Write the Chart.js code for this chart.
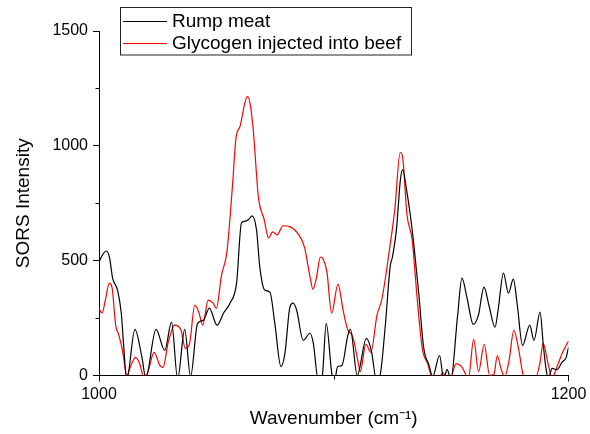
<!DOCTYPE html>
<html><head><meta charset="utf-8">
<script src="https://cdn.jsdelivr.net/npm/chart.js@4/dist/chart.umd.min.js"></script>
<style>html,body{margin:0;padding:0;background:#fff;}#wrap{width:590px;height:434px;}</style>
</head><body><div id="wrap"><canvas id="c" width="590" height="434"></canvas></div>
<script>
// Data (wavenumber in cm-1, SORS intensity)
const rumpWavenumber = [1000,1001.5,1003.1,1004.5,1005.8,1007.9,1009.5,1010.5,1011.8,1015.3,1018.3,1019.9,1024.3,1028,1030.9,1033.5,1036.5,1039,1042,1044.4,1047,1050.3,1053,1055.8,1058.6,1060.7,1062.5,1063.8,1065.2,1067.1,1068.5,1070.6,1072.8,1074.9,1077.5,1079.2,1081.3,1082.7,1084.2,1087,1089.9,1091.3,1093.4,1095,1096.8,1099,1100,1101.7,1103.5,1106,1107.1,1110,1113.9,1116,1118.2,1119.5,1121.9,1124,1125,1126.7,1128.4,1129.4,1131,1132.6,1134,1136.2,1138.3,1140.6,1142.1,1145.1,1146.8,1148.3,1149.9,1152.7,1154.6,1156.8,1159.4,1161.6,1164,1166.1,1168.7,1170,1172.3,1174.4,1176.5,1178.2,1180.4,1183.5,1185.3,1187.9,1189.2,1190.4,1191.4,1193,1195.1,1197.2,1199,1200];
const rumpIntensity = [494,525,542,512,424,372,271,131,-20,201,79,-10,201,109,232,-15,201,-5,227,240,293,219,271,315,402,665,672,680,695,634,472,372,363,227,39,96,297,315,284,153,184,140,-20,-10,227,22,-40,39,44,175,201,0,162,109,-20,-10,210,472,516,634,853,896,809,700,582,359,122,44,-5,87,-15,26,-15,254,424,337,223,262,385,306,210,284,446,359,420,306,131,219,153,276,140,31,-15,31,26,57,79,122];
const glyWavenumber = [1000,1001.3,1002.7,1004.4,1005.6,1007.1,1008.5,1010,1011.9,1013.1,1015.6,1017.3,1019,1020.6,1023.5,1025.9,1027.3,1029.4,1032.2,1034.8,1036.8,1038.6,1040.8,1042.5,1044.2,1046.5,1048.6,1050,1052.2,1054.5,1056.8,1058.3,1060.2,1062.1,1063.2,1064.5,1065.8,1067.9,1070.4,1072.2,1074,1075.9,1078.4,1081.5,1084.5,1087.5,1089.9,1091.1,1092.6,1094.3,1095.5,1097.1,1099.1,1101.8,1104,1105.9,1108.2,1110.4,1111.3,1113.7,1115.8,1118.4,1120.5,1123.9,1126,1128.3,1129.3,1131.2,1133.4,1135.6,1137.7,1140,1142.2,1145,1146.5,1148,1149.8,1152,1154.4,1157.4,1159.6,1161.7,1164.1,1166.4,1168.2,1169.7,1171.2,1172.8,1174.7,1176.7,1178.7,1180.8,1183,1185.8,1187.8,1189.2,1191.3,1193,1195.3,1197.5,1200];
const glyIntensity = [293,271,328,402,380,219,175,109,0,31,79,52,-5,9,101,44,35,140,219,201,118,140,306,276,219,328,315,293,437,538,818,1028,1089,1185,1216,1176,1058,778,678,599,625,612,652,647,621,560,429,376,424,516,507,450,271,398,284,201,166,57,17,136,101,262,332,560,722,971,953,700,590,328,118,52,-15,-10,13,-10,-10,52,40,-10,157,17,136,0,4,87,31,-5,66,197,118,0,-15,-15,52,140,52,-10,44,101,150];
const seriesLabels = ['Rump meat', 'Glycogen injected into beef'];
const xMajorTicks = [1000, 1200];
const xMinorTicks = [1100];
const yMajorTicks = [0, 500, 1000, 1500];
const yMinorTicks = [250, 750, 1250];

const FONT = '"Liberation Sans", Arial, sans-serif';

const toXY = (xs, ys) => xs.map((x, i) => ({x: x, y: ys[i]}));

const extrasPlugin = {
  id: 'extras',
  afterDraw(chart) {
    const ctx = chart.ctx;
    const xs = chart.scales.x, ys = chart.scales.y;
    const area = chart.chartArea;
    ctx.save();
    ctx.strokeStyle = '#000';
    ctx.lineWidth = 1;
    ctx.beginPath();
    yMinorTicks.forEach(v => {
      const py = Math.round(ys.getPixelForValue(v)) + 0.5;
      ctx.moveTo(area.left - 3.5, py); ctx.lineTo(area.left, py);
    });
    xMinorTicks.forEach(v => {
      const px = Math.round(xs.getPixelForValue(v)) + 0.5;
      ctx.moveTo(px, area.bottom); ctx.lineTo(px, area.bottom + 4);
    });
    ctx.stroke();
    // legend box
    const bx = 120.5, by = 7.5, bw = 291, bh = 47.5;
    ctx.strokeStyle = '#222';
    ctx.lineWidth = 1;
    ctx.strokeRect(bx, by, bw, bh);
    ctx.font = '19px ' + FONT;
    ctx.textBaseline = 'middle';
    ctx.fillStyle = '#000';
    chart.data.datasets.forEach((ds, i) => {
      const cy = 21 + i * 22;
      ctx.strokeStyle = ds.borderColor;
      ctx.beginPath();
      ctx.moveTo(123, cy + 0.5); ctx.lineTo(167, cy + 0.5);
      ctx.stroke();
      ctx.fillText(ds.label, 172, cy + 1);
    });
    ctx.restore();
  }
};

new Chart(document.getElementById('c'), {
  type: 'line',
  data: {
    datasets: [
      {label: seriesLabels[0], data: toXY(rumpWavenumber, rumpIntensity), borderColor: '#000000', borderWidth: 1.2, pointRadius: 0, cubicInterpolationMode: 'monotone', fill: false},
      {label: seriesLabels[1], data: toXY(glyWavenumber, glyIntensity), borderColor: '#ff0000', borderWidth: 1.2, pointRadius: 0, cubicInterpolationMode: 'monotone', fill: false}
    ]
  },
  options: {
    responsive: false,
    animation: false,
    events: [],
    layout: {padding: {left: 0, right: 21.5, top: 31, bottom: 0}},
    plugins: {legend: {display: false}, tooltip: {enabled: false}},
    scales: {
      x: {
        type: 'linear', min: 1000, max: 1200,
        afterBuildTicks: s => { s.ticks = xMajorTicks.map(v => ({value: v})); },
        afterFit: s => { s.height = 58.5; },
        ticks: {color: '#000', font: {family: FONT, size: 16}, padding: 3, maxRotation: 0, autoSkip: false, callback: v => String(v)},
        grid: {display: true, drawOnChartArea: false, drawTicks: true, tickLength: 6, color: '#000', tickColor: '#000'},
        border: {display: true, color: '#000', width: 1},
        title: {display: true, text: 'Wavenumber (cm⁻¹)', color: '#000', font: {family: FONT, size: 19}, padding: {top: 0, bottom: 4}}
      },
      y: {
        type: 'linear', min: 0, max: 1500,
        afterBuildTicks: s => { s.ticks = yMajorTicks.map(v => ({value: v})); },
        afterFit: s => { s.width = 99; },
        ticks: {color: '#000', font: {family: FONT, size: 16}, padding: 5, callback: v => String(v)},
        grid: {display: true, drawOnChartArea: false, drawTicks: true, tickLength: 6, color: '#000', tickColor: '#000'},
        border: {display: true, color: '#000', width: 1},
        title: {display: true, text: 'SORS Intensity', color: '#000', font: {family: FONT, size: 19}, padding: {top: 12, bottom: 0}}
      }
    }
  },
  plugins: [extrasPlugin]
});
</script>
</body></html>
